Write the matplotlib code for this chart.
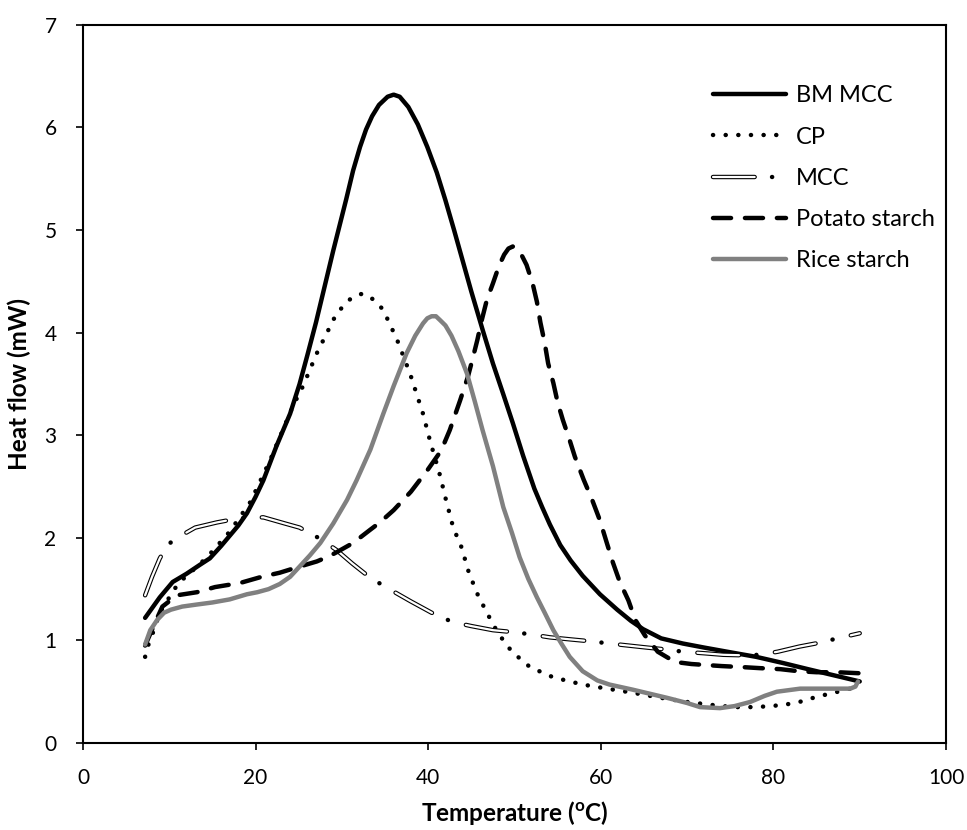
import matplotlib
matplotlib.use("Agg")
import matplotlib.pyplot as plt

# heat flow curves
bm_mcc_t = [7.2, 8.9, 10.4, 12.0, 13.6, 14.7, 16.0, 17.0, 18.0, 19.0, 20.0, 20.9, 22.4, 24.0, 25.1,
            26.0, 27.0, 28.0, 29.0, 30.5, 31.3, 32.1, 32.8, 33.5, 34.3, 35.3, 36.0, 36.7, 37.7,
            38.8, 39.9, 41.0, 42.0, 43.0, 44.0, 45.0, 46.3, 47.5, 48.7, 49.8, 51.0, 52.3, 53.2,
            54.1, 55.3, 56.5, 57.9, 59.9, 61.9, 63.5, 64.9, 67.0, 69.5, 72.0, 75.3, 78.0, 81.1,
            84.0, 87.0, 89.5, 90.0]
bm_mcc_q = [1.22, 1.42, 1.57, 1.65, 1.74, 1.80, 1.92, 2.02, 2.12, 2.24, 2.40, 2.56, 2.89, 3.21, 3.50,
            3.78, 4.10, 4.45, 4.80, 5.30, 5.58, 5.81, 5.98, 6.11, 6.22, 6.30, 6.32, 6.30, 6.20,
            6.03, 5.81, 5.56, 5.29, 5.00, 4.70, 4.40, 4.03, 3.70, 3.40, 3.12, 2.80, 2.48, 2.30,
            2.13, 1.93, 1.78, 1.63, 1.45, 1.30, 1.19, 1.11, 1.02, 0.97, 0.93, 0.88, 0.84, 0.78,
            0.72, 0.66, 0.61, 0.60]

cp_t = [7.2, 7.5, 8.0, 8.9, 10.3, 11.0, 12.0, 13.5, 14.9, 17.0, 19.4, 21.7, 23.0, 24.3, 25.5, 27.1,
        29.4, 31.0, 31.8, 32.5, 33.2, 34.0, 34.8, 36.4, 37.9, 39.4, 40.2, 41.4, 42.0, 42.9, 43.9,
        44.6, 45.6, 46.8, 48.1, 49.7, 51.8, 54.5, 57.9, 60.0, 63.7, 67.0, 70.0, 73.0, 75.3, 78.0,
        81.1, 83.0, 85.0, 87.0, 88.9, 90.0]
cp_q = [0.84, 0.94, 1.05, 1.27, 1.46, 1.55, 1.63, 1.74, 1.86, 2.06, 2.35, 2.76, 3.02, 3.28, 3.48, 3.80,
        4.19, 4.33, 4.37, 4.38, 4.35, 4.30, 4.22, 3.93, 3.60, 3.21, 2.95, 2.60, 2.39, 2.10, 1.90,
        1.69, 1.47, 1.27, 1.07, 0.89, 0.74, 0.64, 0.57, 0.54, 0.49, 0.44, 0.40, 0.37, 0.35, 0.35,
        0.37, 0.40, 0.45, 0.49, 0.53, 0.56]

mcc_t = [7.2, 8.0, 8.9, 9.8, 10.7, 13.0, 15.5, 18.0, 20.9, 23.4, 25.1, 27.5, 29.4, 31.2, 33.3,
         35.5, 38.0, 40.4, 42.8, 45.0, 47.5, 50.0, 51.8, 54.1, 56.5, 59.0, 61.0, 65.4, 67.8, 69.5,
         72.0, 74.2, 76.5, 78.4, 80.5, 83.0, 85.5, 87.4, 90.0]
mcc_q = [1.44, 1.62, 1.80, 1.93, 1.99, 2.10, 2.15, 2.19, 2.20, 2.14, 2.10, 1.99, 1.88, 1.75, 1.61,
         1.50, 1.38, 1.27, 1.18, 1.14, 1.10, 1.08, 1.06, 1.03, 1.01, 0.99, 0.97, 0.93, 0.91, 0.89,
         0.875, 0.86, 0.855, 0.86, 0.89, 0.94, 0.98, 1.02, 1.07]

potato_t = [7.2, 8.5, 9.2, 10.9, 13.2, 15.3, 18.2, 20.7, 22.8, 25.1, 27.1, 28.5, 29.4, 31.3, 33.3,
            34.4, 36.0, 38.0, 40.0, 41.5, 42.5, 43.7, 44.6, 45.1, 45.7, 46.2, 46.8, 47.5, 48.2,
            48.8, 49.3, 49.8, 50.3, 50.8, 51.4, 52.1, 52.6, 53.0, 53.5, 53.9, 54.5, 55.0, 55.6,
            56.4, 57.0, 58.0, 59.0, 59.9, 60.7, 61.4, 62.2, 63.2, 64.0, 65.1, 66.6, 68.6, 70.5,
            74.0, 76.4, 78.4, 80.8, 82.9, 85.0, 87.4, 90.0]
potato_q = [0.95, 1.20, 1.33, 1.44, 1.47, 1.52, 1.56, 1.62, 1.66, 1.72, 1.77, 1.82, 1.86, 1.95, 2.08,
            2.15, 2.27, 2.45, 2.67, 2.85, 3.05, 3.34, 3.57, 3.73, 3.93, 4.12, 4.32, 4.48, 4.65,
            4.76, 4.82, 4.84, 4.82, 4.76, 4.66, 4.48, 4.30, 4.10, 3.90, 3.70, 3.51, 3.32, 3.15,
            2.95, 2.79, 2.57, 2.37, 2.17, 1.95, 1.76, 1.57, 1.39, 1.20, 1.05, 0.89, 0.79, 0.77,
            0.75, 0.74, 0.73, 0.72, 0.70, 0.69, 0.69, 0.68]

rice_t = [7.2, 7.8, 8.6, 9.4, 10.2, 11.5, 13.2, 15.0, 17.0, 19.0, 20.2, 21.5, 22.8, 24.0, 25.1,
          26.3, 27.5, 29.0, 30.6, 31.7, 33.3, 34.8, 36.0, 37.5, 38.5, 39.4, 39.9, 40.4, 40.9, 41.4,
          42.0, 42.7, 43.5, 44.5, 45.4, 46.3, 47.5, 48.7, 49.7, 50.6, 51.6, 52.6, 53.5, 54.5, 55.5,
          56.4, 57.9, 59.6, 61.0, 63.7, 67.7, 70.0, 71.5, 73.8, 75.5, 77.3, 79.0, 80.4, 83.1, 86.0,
          88.9, 89.5, 89.8]
rice_q = [0.96, 1.10, 1.20, 1.27, 1.30, 1.33, 1.35, 1.37, 1.40, 1.45, 1.47, 1.50, 1.55, 1.62, 1.72,
          1.83, 1.95, 2.14, 2.37, 2.56, 2.86, 3.21, 3.48, 3.80, 3.97, 4.09, 4.14, 4.16, 4.16, 4.12,
          4.07, 3.97, 3.82, 3.60, 3.33, 3.05, 2.70, 2.30, 2.05, 1.81, 1.60, 1.42, 1.27, 1.10, 0.96,
          0.84, 0.70, 0.61, 0.57, 0.52, 0.44, 0.39, 0.35, 0.34, 0.36, 0.40, 0.46, 0.50, 0.53, 0.53,
          0.53, 0.55, 0.60]

x_ticks = [0, 20, 40, 60, 80, 100]
y_ticks = [0, 1, 2, 3, 4, 5, 6, 7]

plt.rcParams['font.family'] = ['Lato', 'DejaVu Sans']
plt.rcParams['mathtext.fontset'] = 'custom'
plt.rcParams['mathtext.rm'] = 'Lato'
plt.rcParams['mathtext.bf'] = 'Lato:bold'
plt.rcParams['lines.scale_dashes'] = False

fig = plt.figure(figsize=(9.67, 8.3), dpi=100)
ax = fig.add_axes([0.0858, 0.1048, 0.8925, 0.8652])

lw = 3.2
bm, = ax.plot(bm_mcc_t, bm_mcc_q, color='black', lw=lw, solid_capstyle='round',
              solid_joinstyle='round', label='BM MCC')
cp, = ax.plot(cp_t, cp_q, color='black', lw=lw, dashes=(0.1, 9.0),
              dash_capstyle='round', label='CP')
# hollow dash + dot: black outline line, white core only on the long dashes
mcc_out, = ax.plot(mcc_t, mcc_q, color='black', lw=lw, dashes=(30, 12.5, 0.1, 13.4),
                   dash_capstyle='round')
mcc_in, = ax.plot(mcc_t, mcc_q, color='white', lw=1.6, dashes=(30, 26),
                  dash_capstyle='round')
pot, = ax.plot(potato_t, potato_q, color='black', lw=lw, dashes=(13, 10),
               dash_capstyle='round', label='Potato starch')
rice, = ax.plot(rice_t, rice_q, color='#808080', lw=lw, solid_capstyle='round',
                solid_joinstyle='round', label='Rice starch')

ax.set_xlim(0, 100)
ax.set_ylim(0, 7)
ax.set_xticks(x_ticks)
ax.set_yticks(y_ticks)
ax.tick_params(direction='out', length=5, width=1.2, labelsize=15)
ax.tick_params(axis='x', pad=13)
ax.tick_params(axis='y', pad=14)
for s in ax.spines.values():
    s.set_linewidth(1.5)

ax.set_xlabel('Temperature ($^{\\mathbf{o}}$C)', fontsize=17.5, fontweight='bold', labelpad=8)
ax.set_ylabel('Heat flow (mW)', fontsize=17.5, fontweight='bold', labelpad=10)

ax.legend([bm, cp, (mcc_out, mcc_in), pot, rice],
          ['BM MCC', 'CP', 'MCC', 'Potato starch', 'Rice starch'],
          loc='upper left', bbox_to_anchor=(0.73, 0.916), frameon=False,
          fontsize=17, handlelength=3.1, handletextpad=0.4, labelspacing=0.86,
          borderaxespad=0, borderpad=0)

fig.savefig('out.png', dpi=100)
